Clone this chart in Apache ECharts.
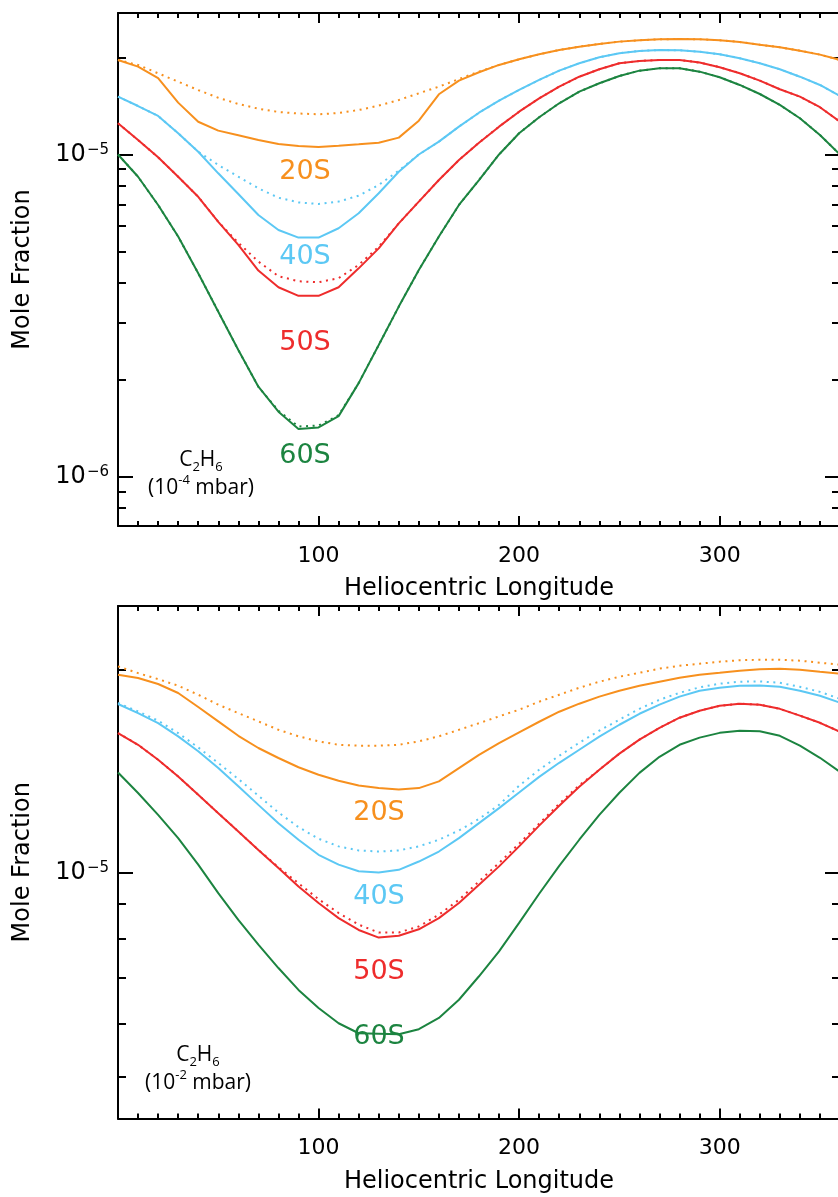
<!DOCTYPE html>
<html><head><meta charset="utf-8">
<script src="https://cdn.jsdelivr.net/npm/echarts@6/dist/echarts.min.js"></script>
<style>html,body{margin:0;padding:0;background:#fff}#c{width:838px;height:1197px}</style>
</head><body><div id="c"></div><script>
// Heliocentric longitude (deg)
const longitude = [0,10,20,30,40,50,60,70,80,90,100,110,120,130,140,150,160,170,180,190,200,210,220,230,240,250,260,270,280,290,300,310,320,330,340,350,360];

// ---- Top panel (1e-4 mbar) ----
const top20S = [1.966e-5,1.874e-5,1.725e-5,1.449e-5,1.264e-5,1.186e-5,1.147e-5,1.109e-5,1.078e-5,1.063e-5,1.055e-5,1.065e-5,1.076e-5,1.088e-5,1.128e-5,1.273e-5,1.538e-5,1.695e-5,1.80e-5,1.897e-5,1.975e-5,2.047e-5,2.111e-5,2.162e-5,2.204e-5,2.241e-5,2.263e-5,2.279e-5,2.284e-5,2.279e-5,2.263e-5,2.236e-5,2.193e-5,2.152e-5,2.101e-5,2.042e-5,1.966e-5];
const top20Sdot = [1.966e-5,1.897e-5,1.787e-5,1.683e-5,1.585e-5,1.50e-5,1.435e-5,1.387e-5,1.355e-5,1.34e-5,1.333e-5,1.345e-5,1.374e-5,1.418e-5,1.476e-5,1.549e-5,1.624e-5,1.715e-5,1.808e-5,1.897e-5,1.975e-5,2.047e-5,2.111e-5,2.162e-5,2.204e-5,2.241e-5,2.263e-5,2.279e-5,2.284e-5,2.279e-5,2.263e-5,2.236e-5,2.193e-5,2.152e-5,2.101e-5,2.042e-5,1.966e-5];
const top40S = [1.512e-5,1.414e-5,1.317e-5,1.164e-5,1.020e-5,8.74e-6,7.54e-6,6.49e-6,5.83e-6,5.52e-6,5.52e-6,5.90e-6,6.57e-6,7.58e-6,8.84e-6,1.0e-5,1.096e-5,1.22e-5,1.348e-5,1.47e-5,1.586e-5,1.704e-5,1.821e-5,1.92e-5,2.004e-5,2.062e-5,2.096e-5,2.111e-5,2.106e-5,2.085e-5,2.047e-5,1.99e-5,1.92e-5,1.839e-5,1.744e-5,1.644e-5,1.519e-5];
const top40Sdot = [1.512e-5,1.414e-5,1.317e-5,1.164e-5,1.020e-5,9.28e-6,8.53e-6,7.85e-6,7.34e-6,7.10e-6,7.02e-6,7.14e-6,7.45e-6,8.04e-6,8.91e-6,1.0e-5,1.096e-5,1.22e-5,1.348e-5,1.47e-5,1.586e-5,1.704e-5,1.821e-5,1.92e-5,2.004e-5,2.062e-5,2.096e-5,2.111e-5,2.106e-5,2.085e-5,2.047e-5,1.99e-5,1.92e-5,1.839e-5,1.744e-5,1.644e-5,1.519e-5];
const top50S = [1.25e-5,1.109e-5,9.8e-6,8.53e-6,7.39e-6,6.18e-6,5.24e-6,4.36e-6,3.87e-6,3.64e-6,3.64e-6,3.87e-6,4.43e-6,5.11e-6,6.11e-6,7.14e-6,8.33e-6,9.61e-6,1.088e-5,1.22e-5,1.358e-5,1.494e-5,1.624e-5,1.744e-5,1.839e-5,1.92e-5,1.952e-5,1.966e-5,1.966e-5,1.929e-5,1.866e-5,1.788e-5,1.696e-5,1.594e-5,1.512e-5,1.402e-5,1.264e-5];
const top50Sdot = [1.25e-5,1.109e-5,9.8e-6,8.53e-6,7.39e-6,6.18e-6,5.32e-6,4.65e-6,4.19e-6,4.04e-6,4.01e-6,4.13e-6,4.54e-6,5.17e-6,6.11e-6,7.14e-6,8.33e-6,9.61e-6,1.088e-5,1.22e-5,1.358e-5,1.494e-5,1.624e-5,1.744e-5,1.839e-5,1.92e-5,1.952e-5,1.966e-5,1.966e-5,1.929e-5,1.866e-5,1.788e-5,1.696e-5,1.594e-5,1.512e-5,1.402e-5,1.264e-5];
const top60S = [1.0e-5,8.53e-6,6.97e-6,5.56e-6,4.28e-6,3.25e-6,2.47e-6,1.90e-6,1.59e-6,1.405e-6,1.42e-6,1.54e-6,1.95e-6,2.56e-6,3.37e-6,4.38e-6,5.56e-6,6.97e-6,8.33e-6,1.0e-5,1.164e-5,1.305e-5,1.442e-5,1.567e-5,1.664e-5,1.753e-5,1.821e-5,1.852e-5,1.852e-5,1.808e-5,1.737e-5,1.644e-5,1.541e-5,1.425e-5,1.296e-5,1.15e-5,1.0e-5];
const top60Sdot = [1.0e-5,8.53e-6,6.97e-6,5.56e-6,4.28e-6,3.25e-6,2.47e-6,1.90e-6,1.60e-6,1.43e-6,1.44e-6,1.55e-6,1.95e-6,2.56e-6,3.37e-6,4.38e-6,5.56e-6,6.97e-6,8.33e-6,1.0e-5,1.164e-5,1.305e-5,1.442e-5,1.567e-5,1.664e-5,1.753e-5,1.821e-5,1.852e-5,1.852e-5,1.808e-5,1.737e-5,1.644e-5,1.541e-5,1.425e-5,1.296e-5,1.15e-5,1.0e-5];

// ---- Bottom panel (1e-2 mbar) ----
const bot20S = [1.963e-5,1.941e-5,1.902e-5,1.845e-5,1.759e-5,1.675e-5,1.595e-5,1.530e-5,1.479e-5,1.433e-5,1.397e-5,1.369e-5,1.347e-5,1.335e-5,1.329e-5,1.335e-5,1.366e-5,1.429e-5,1.495e-5,1.556e-5,1.614e-5,1.673e-5,1.731e-5,1.779e-5,1.822e-5,1.859e-5,1.891e-5,1.917e-5,1.943e-5,1.963e-5,1.976e-5,1.990e-5,2.0e-5,2.004e-5,1.997e-5,1.983e-5,1.970e-5];
const bot20Sdot = [2.02e-5,1.974e-5,1.934e-5,1.891e-5,1.834e-5,1.773e-5,1.723e-5,1.675e-5,1.628e-5,1.592e-5,1.565e-5,1.547e-5,1.542e-5,1.542e-5,1.547e-5,1.565e-5,1.592e-5,1.628e-5,1.665e-5,1.704e-5,1.743e-5,1.791e-5,1.834e-5,1.878e-5,1.917e-5,1.950e-5,1.976e-5,2.004e-5,2.024e-5,2.038e-5,2.052e-5,2.062e-5,2.066e-5,2.066e-5,2.059e-5,2.045e-5,2.031e-5];
const bot40S = [1.777e-5,1.723e-5,1.665e-5,1.592e-5,1.513e-5,1.429e-5,1.343e-5,1.261e-5,1.185e-5,1.120e-5,1.064e-5,1.029e-5,1.006e-5,1.002e-5,1.011e-5,1.040e-5,1.076e-5,1.126e-5,1.185e-5,1.247e-5,1.315e-5,1.387e-5,1.455e-5,1.521e-5,1.590e-5,1.656e-5,1.719e-5,1.773e-5,1.822e-5,1.859e-5,1.878e-5,1.891e-5,1.893e-5,1.884e-5,1.859e-5,1.828e-5,1.785e-5];
const bot40Sdot = [1.783e-5,1.733e-5,1.679e-5,1.610e-5,1.533e-5,1.454e-5,1.377e-5,1.301e-5,1.229e-5,1.169e-5,1.124e-5,1.095e-5,1.080e-5,1.076e-5,1.080e-5,1.095e-5,1.120e-5,1.156e-5,1.202e-5,1.261e-5,1.346e-5,1.421e-5,1.490e-5,1.558e-5,1.623e-5,1.685e-5,1.748e-5,1.803e-5,1.846e-5,1.881e-5,1.904e-5,1.917e-5,1.919e-5,1.910e-5,1.884e-5,1.852e-5,1.809e-5];
const bot50S = [1.610e-5,1.547e-5,1.470e-5,1.389e-5,1.305e-5,1.226e-5,1.152e-5,1.082e-5,1.017e-5,9.55e-6,9.03e-6,8.58e-6,8.24e-6,8.03e-6,8.08e-6,8.26e-6,8.58e-6,9.03e-6,9.61e-6,1.023e-5,1.095e-5,1.175e-5,1.257e-5,1.341e-5,1.421e-5,1.501e-5,1.574e-5,1.639e-5,1.696e-5,1.737e-5,1.766e-5,1.779e-5,1.773e-5,1.748e-5,1.708e-5,1.667e-5,1.617e-5];
const bot50Sdot = [1.610e-5,1.547e-5,1.470e-5,1.389e-5,1.305e-5,1.226e-5,1.152e-5,1.082e-5,1.020e-5,9.66e-6,9.15e-6,8.73e-6,8.39e-6,8.17e-6,8.17e-6,8.34e-6,8.68e-6,9.13e-6,9.72e-6,1.035e-5,1.105e-5,1.183e-5,1.266e-5,1.348e-5,1.421e-5,1.501e-5,1.574e-5,1.639e-5,1.696e-5,1.737e-5,1.766e-5,1.779e-5,1.773e-5,1.748e-5,1.708e-5,1.667e-5,1.617e-5];
const bot60S = [1.408e-5,1.313e-5,1.219e-5,1.126e-5,1.029e-5,9.34e-6,8.53e-6,7.84e-6,7.24e-6,6.72e-6,6.32e-6,6.00e-6,5.80e-6,5.79e-6,5.78e-6,5.88e-6,6.11e-6,6.50e-6,7.04e-6,7.66e-6,8.44e-6,9.32e-6,1.025e-5,1.120e-5,1.219e-5,1.314e-5,1.406e-5,1.485e-5,1.547e-5,1.585e-5,1.611e-5,1.623e-5,1.620e-5,1.595e-5,1.542e-5,1.480e-5,1.411e-5];

// ---- Axes ticks ----
const xMajorTicks = [100,200,300];
const xMinorTicks = [10,20,30,40,50,60,70,80,90,110,120,130,140,150,160,170,180,190,210,220,230,240,250,260,270,280,290,310,320,330,340,350];
const topYRange = [7.02e-7, 2.75e-5];
const topYMajor = [1e-6, 1e-5];
const topYMinor = [8e-7,9e-7,2e-6,3e-6,4e-6,5e-6,6e-6,7e-6,8e-6,9e-6,2e-5];
const botYRange = [4.34e-6, 2.48e-5];
const botYMajor = [1e-5];
const botYMinor = [5e-6,6e-6,7e-6,8e-6,9e-6,2e-5];

const COLORS = { s20: '#F7901E', s40: '#5CC8F4', s50: '#EE2C2C', s60: '#1C8440' };
const FONT = 'DejaVu Sans';
const LBL = 'Open Sans';

const axisLineStyle = { color: '#000', width: 2 };

function xAxes(g) {
  const base = { gridIndex: g, type: 'value', min: 0, max: 360, splitLine: { show: false } };
  return [
    Object.assign({}, base, { position: 'bottom',
      axisLine: { onZero: false, lineStyle: axisLineStyle },
      axisTick: { inside: true, length: 10, customValues: xMajorTicks, lineStyle: axisLineStyle },
      axisLabel: { customValues: xMajorTicks, fontSize: 22, color: '#000', margin: 19, fontFamily: FONT },
      name: 'Heliocentric Longitude', nameLocation: 'middle', nameGap: 51,
      nameTextStyle: { fontSize: 24, color: '#000', fontFamily: FONT } }),
    Object.assign({}, base, { position: 'bottom',
      axisLine: { show: false, onZero: false },
      axisTick: { inside: true, length: 5, customValues: xMinorTicks, lineStyle: axisLineStyle },
      axisLabel: { show: false } }),
    Object.assign({}, base, { position: 'top',
      axisLine: { onZero: false, lineStyle: axisLineStyle },
      axisTick: { inside: true, length: 10, customValues: xMajorTicks, lineStyle: axisLineStyle },
      axisLabel: { show: false } }),
    Object.assign({}, base, { position: 'top',
      axisLine: { show: false, onZero: false },
      axisTick: { inside: true, length: 5, customValues: xMinorTicks, lineStyle: axisLineStyle },
      axisLabel: { show: false } })
  ];
}

function yAxes(g, range, major, minor) {
  const base = { gridIndex: g, type: 'log', logBase: 10, min: range[0], max: range[1], splitLine: { show: false }, minorTick: { show: false } };
  return [
    Object.assign({}, base, { position: 'left',
      axisLine: { onZero: false, lineStyle: axisLineStyle },
      axisTick: { inside: true, length: 15, customValues: major, lineStyle: axisLineStyle },
      axisLabel: { customValues: major, margin: 9, color: '#000',
        formatter: function (v) { const e = Math.round(Math.log10(v)); return '{b|10}{s|' + (e < 0 ? '\u2212' : '') + Math.abs(e) + '}'; },
        rich: { b: { fontSize: 24, fontFamily: FONT, color: '#000' }, s: { fontSize: 15, fontFamily: FONT, color: '#000', verticalAlign: 'top', padding: [0, 0, 6, 1] } } },
      name: 'Mole Fraction', nameLocation: 'middle', nameGap: 83,
      nameTextStyle: { fontSize: 24, color: '#000', fontFamily: FONT } }),
    Object.assign({}, base, { position: 'left',
      axisLine: { show: false, onZero: false },
      axisTick: { inside: true, length: 8, customValues: minor, lineStyle: axisLineStyle },
      axisLabel: { show: false } }),
    Object.assign({}, base, { position: 'right',
      axisLine: { show: true, onZero: false, lineStyle: axisLineStyle },
      axisTick: { inside: true, length: 15, customValues: major, lineStyle: axisLineStyle },
      axisLabel: { show: false } }),
    Object.assign({}, base, { position: 'right',
      axisLine: { show: false, onZero: false },
      axisTick: { inside: true, length: 8, customValues: minor, lineStyle: axisLineStyle },
      axisLabel: { show: false } })
  ];
}

function line(g, values, color, dotted) {
  return {
    type: 'line', xAxisIndex: g * 4, yAxisIndex: g * 4, showSymbol: false, silent: true,
    data: longitude.map((x, i) => [x, values[i]]),
    lineStyle: { color: color, width: 2, type: dotted ? [2, 4.6] : 'solid' },
    z: dotted ? 2 : 3
  };
}

function label(x, y, text, color) {
  return { type: 'text', x: x, y: y, silent: true,
    style: { text: text, fill: color, font: '27px "DejaVu Sans"', align: 'center', verticalAlign: 'middle' } };
}

function species(x, y, exp) {
  return { type: 'text', x: x, y: y, silent: true,
    style: {
      text: '{m|C}{sub|2}{m|H}{sub|6}\n{m|(10}{sup|' + exp + '}{m| mbar)}',
      align: 'center', verticalAlign: 'top', fill: '#000',
      rich: {
        m: { fontSize: 21, fontFamily: LBL, fill: '#000', lineHeight: 28 },
        sub: { fontSize: 13, fontFamily: LBL, fill: '#000', verticalAlign: 'bottom', lineHeight: 14 },
        sup: { fontSize: 13, fontFamily: LBL, fill: '#000', verticalAlign: 'top', lineHeight: 14 }
      }
    } };
}

const chart = echarts.init(document.getElementById('c'), null, { renderer: 'canvas' });
chart.setOption({
  animation: false,
  backgroundColor: '#fff',
  grid: [
    { left: 118, width: 722, top: 13, height: 513, outerBoundsMode: 'none' },
    { left: 118, width: 722, top: 606, height: 512.5, outerBoundsMode: 'none' }
  ],
  xAxis: xAxes(0).concat(xAxes(1)),
  yAxis: yAxes(0, topYRange, topYMajor, topYMinor).concat(yAxes(1, botYRange, botYMajor, botYMinor)),
  series: [
    line(0, top20Sdot, COLORS.s20, true), line(0, top40Sdot, COLORS.s40, true),
    line(0, top50Sdot, COLORS.s50, true), line(0, top60Sdot, COLORS.s60, true),
    line(0, top20S, COLORS.s20, false), line(0, top40S, COLORS.s40, false),
    line(0, top50S, COLORS.s50, false), line(0, top60S, COLORS.s60, false),
    line(1, bot20Sdot, COLORS.s20, true), line(1, bot40Sdot, COLORS.s40, true),
    line(1, bot50Sdot, COLORS.s50, true),
    line(1, bot20S, COLORS.s20, false), line(1, bot40S, COLORS.s40, false),
    line(1, bot50S, COLORS.s50, false), line(1, bot60S, COLORS.s60, false)
  ],
  graphic: [
    label(305, 172, '20S', COLORS.s20), label(305, 257, '40S', COLORS.s40),
    label(305, 343, '50S', COLORS.s50), label(305, 456, '60S', COLORS.s60),
    label(379, 813, '20S', COLORS.s20), label(379, 897, '40S', COLORS.s40),
    label(379, 972, '50S', COLORS.s50), label(379, 1037, '60S', COLORS.s60),
    species(201, 446, '-4'), species(198, 1041, '-2')
  ]
});
</script></body></html>
